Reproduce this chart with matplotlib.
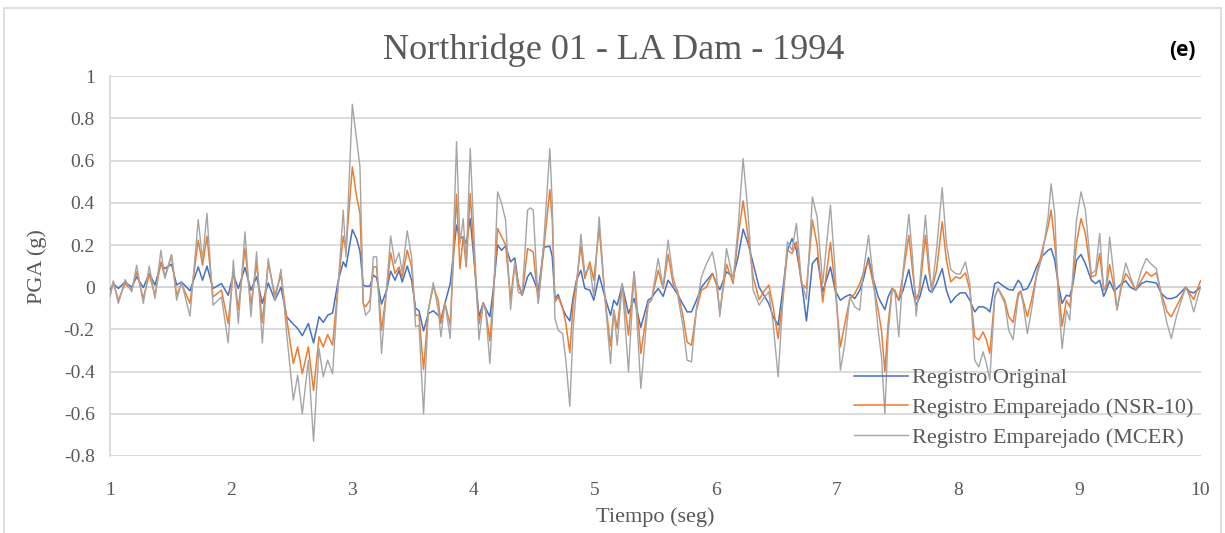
import matplotlib
matplotlib.use("Agg")
import matplotlib.pyplot as plt
from matplotlib.patches import Rectangle

# tiempo (seg) y aceleraciones (g)
tiempo = [1.00, 1.027, 1.069, 1.124, 1.179, 1.22, 1.275, 1.324, 1.371, 1.42, 1.453, 1.508, 1.55, 1.59,
          1.66, 1.728, 1.764, 1.80, 1.85, 1.92, 1.975, 2.018, 2.059, 2.114, 2.163, 2.21, 2.257, 2.306,
          2.361, 2.411, 2.458, 2.513, 2.549, 2.587, 2.637, 2.68, 2.725, 2.76, 2.796, 2.837, 2.884, 2.925,
          2.947, 3.0, 3.035, 3.063, 3.09, 3.11, 3.145, 3.173, 3.2, 3.241, 3.283, 3.316, 3.352, 3.385,
          3.412, 3.453, 3.489, 3.522, 3.55, 3.588, 3.627, 3.668, 3.709, 3.731, 3.764, 3.808, 3.86, 3.888,
          3.915, 3.94, 3.973, 4.012, 4.045, 4.08, 4.1, 4.135, 4.163, 4.199, 4.232, 4.265, 4.306, 4.341,
          4.369, 4.402, 4.446, 4.471, 4.493, 4.534, 4.581, 4.63, 4.65, 4.672, 4.699, 4.735, 4.762, 4.795,
          4.823, 4.85, 4.886, 4.919, 4.96, 4.993, 5.037, 5.084, 5.131, 5.158, 5.186, 5.227, 5.279, 5.326,
          5.381, 5.441, 5.469, 5.524, 5.565, 5.606, 5.647, 5.683, 5.725, 5.763, 5.799, 5.84, 5.881, 5.923,
          5.972, 6.005, 6.033, 6.088, 6.143, 6.184, 6.225, 6.266, 6.308, 6.357, 6.404, 6.437, 6.473, 6.514,
          6.555, 6.591, 6.629, 6.665, 6.706, 6.748, 6.797, 6.836, 6.882, 6.946, 6.984, 7.028, 7.065, 7.106,
          7.147, 7.188, 7.216, 7.26, 7.298, 7.34, 7.367, 7.395, 7.422, 7.455, 7.477, 7.51, 7.546, 7.593,
          7.623, 7.653, 7.683, 7.73, 7.758, 7.782, 7.821, 7.868, 7.903, 7.939, 7.978, 8.016, 8.06, 8.096,
          8.137, 8.17, 8.206, 8.233, 8.261, 8.302, 8.33, 8.385, 8.417, 8.453, 8.495, 8.517, 8.536, 8.571,
          8.605, 8.646, 8.693, 8.742, 8.767, 8.797, 8.825, 8.858, 8.893, 8.921, 8.948, 8.976, 9.014, 9.05,
          9.099, 9.135, 9.168, 9.201, 9.223, 9.25, 9.286, 9.311, 9.347, 9.383, 9.421, 9.465, 9.512, 9.553,
          9.594, 9.636, 9.677, 9.724, 9.759, 9.801, 9.842, 9.878, 9.911, 9.944, 10.0]

original = [-0.014, 0.017, -0.006, 0.025, 0.0, 0.049, -0.002, 0.065, 0.01, 0.112, 0.088, 0.109, 0.01, 0.025,
            -0.017, 0.096, 0.033, 0.10, -0.006, 0.017, -0.038, 0.06, -0.006, 0.093, -0.014, 0.049, -0.077, 0.02,
            -0.062, 0.0, -0.14, -0.175, -0.196, -0.23, -0.172, -0.264, -0.14, -0.167, -0.133, -0.122, 0.033, 0.12,
            0.096, 0.273, 0.23, 0.17, 0.01, 0.005, 0.005, 0.057, 0.046, -0.08, -0.014, 0.076, 0.033, 0.08,
            0.025, 0.10, 0.033, -0.10, -0.112, -0.207, -0.125, -0.112, -0.133, -0.153, -0.077, 0.017, 0.294, 0.23,
            0.239, 0.207, 0.325, 0.08, -0.14, -0.074, -0.10, -0.14, -0.014, 0.20, 0.175, 0.196, 0.12, 0.139,
            0.017, -0.038, 0.049, 0.07, 0.041, -0.022, 0.19, 0.194, 0.144, -0.054, -0.035, -0.10, -0.133, -0.16,
            -0.046, 0.033, 0.08, -0.006, -0.014, -0.062, 0.057, -0.046, -0.133, -0.062, -0.085, 0.01, -0.125, -0.054,
            -0.19, -0.062, -0.05, -0.006, -0.043, 0.033, 0.0, -0.033, -0.077, -0.117, -0.117, -0.062, 0.0, 0.03,
            0.065, 0.017, -0.012, 0.073, 0.049, 0.144, 0.275, 0.207, 0.112, 0.0, -0.046, -0.077, -0.14, -0.18,
            0.0, 0.175, 0.23, 0.175, 0.033, -0.16, 0.112, 0.14, -0.022, 0.096, -0.014, -0.062, -0.046, -0.035,
            -0.054, -0.014, 0.033, 0.14, 0.041, -0.046, -0.077, -0.106, -0.046, -0.006, -0.022, -0.062, -0.014, 0.084,
            -0.014, -0.085, -0.046, 0.057, -0.014, -0.025, 0.017, 0.088, -0.014, -0.074, -0.046, -0.027, -0.027, -0.062,
            -0.117, -0.093, -0.093, -0.10, -0.117, 0.017, 0.024, 0.0, -0.011, -0.014, 0.033, 0.017, -0.014, -0.006,
            0.033, 0.096, 0.147, 0.175, 0.183, 0.128, 0.017, -0.077, -0.038, -0.043, 0.017, 0.128, 0.155, 0.112,
            0.033, 0.017, 0.033, -0.043, -0.014, 0.03, -0.017, -0.006, 0.017, 0.03, 0.0, -0.014, 0.017, 0.028,
            0.024, 0.02, -0.03, -0.054, -0.054, -0.046, -0.022, 0.0, -0.022, -0.027, 0.0]

nsr10 = [-0.038, 0.025, -0.062, 0.017, -0.014, 0.073, -0.054, 0.062, -0.038, 0.12, 0.049, 0.152, -0.038, 0.017,
         -0.077, 0.223, 0.104, 0.242, -0.046, -0.014, -0.172, 0.08, -0.106, 0.183, -0.085, 0.115, -0.169, 0.115,
         -0.038, 0.057, -0.148, -0.362, -0.283, -0.41, -0.283, -0.49, -0.235, -0.283, -0.224, -0.275, 0.017, 0.242,
         0.175, 0.57, 0.43, 0.35, -0.077, -0.093, -0.062, 0.096, 0.096, -0.204, -0.014, 0.163, 0.065, 0.096,
         0.049, 0.175, 0.096, -0.133, -0.133, -0.39, -0.109, 0.005, -0.062, -0.172, -0.074, -0.18, 0.44, 0.088,
         0.239, 0.096, 0.444, 0.08, -0.175, -0.074, -0.109, -0.254, -0.046, 0.278, 0.239, 0.20, -0.054, 0.115,
         0.017, -0.038, 0.183, 0.175, 0.167, -0.074, 0.19, 0.463, 0.318, -0.07, -0.046, -0.096, -0.172, -0.311,
         -0.077, 0.025, 0.196, 0.041, 0.12, 0.033, 0.286, -0.046, -0.28, -0.109, -0.196, 0.017, -0.227, 0.073,
         -0.314, -0.077, -0.062, 0.08, -0.006, 0.156, 0.017, -0.014, -0.125, -0.26, -0.275, -0.109, -0.014, 0.0,
         0.065, 0.017, -0.12, 0.109, 0.017, 0.239, 0.409, 0.239, 0.049, -0.058, -0.014, 0.01, -0.093, -0.243,
         -0.046, 0.175, 0.16, 0.215, 0.017, -0.006, 0.318, 0.20, -0.07, 0.212, 0.0, -0.283, -0.172, -0.054,
         -0.03, 0.017, 0.065, 0.123, 0.017, -0.109, -0.204, -0.40, -0.172, -0.006, -0.014, -0.062, 0.065, 0.246,
         0.08, -0.058, -0.014, 0.246, 0.08, -0.014, 0.08, 0.31, 0.128, 0.025, 0.049, 0.041, 0.068, -0.014,
         -0.235, -0.25, -0.212, -0.25, -0.314, -0.046, -0.006, -0.062, -0.14, -0.167, -0.03, -0.017, -0.062, -0.14,
         -0.062, 0.057, 0.175, 0.286, 0.365, 0.207, 0.017, -0.185, -0.062, -0.093, 0.033, 0.207, 0.325, 0.254,
         0.049, 0.057, 0.16, -0.014, 0.0, 0.107, 0.0, -0.106, 0.0, 0.065, 0.033, -0.014, 0.033, 0.073,
         0.052, 0.068, -0.03, -0.117, -0.14, -0.093, -0.046, 0.0, -0.03, -0.058, 0.03]

mcer = [-0.046, 0.03, -0.077, 0.036, -0.022, 0.104, -0.077, 0.10, -0.054, 0.175, 0.041, 0.155, -0.062, 0.025,
        -0.137, 0.32, 0.128, 0.35, -0.085, -0.046, -0.264, 0.128, -0.172, 0.262, -0.14, 0.167, -0.264, 0.136,
        -0.062, 0.085, -0.22, -0.535, -0.417, -0.60, -0.346, -0.73, -0.29, -0.425, -0.346, -0.41, 0.017, 0.365,
        0.144, 0.867, 0.70, 0.57, -0.077, -0.133, -0.109, 0.144, 0.144, -0.314, 0.0, 0.243, 0.112, 0.163,
        0.073, 0.267, 0.144, -0.188, -0.18, -0.60, -0.109, 0.022, -0.109, -0.235, -0.07, -0.243, 0.69, 0.207,
        0.325, 0.112, 0.657, 0.144, -0.25, -0.077, -0.109, -0.362, -0.077, 0.452, 0.397, 0.318, -0.106, 0.112,
        -0.022, -0.038, 0.365, 0.376, 0.365, -0.077, 0.223, 0.657, 0.397, -0.148, -0.204, -0.22, -0.346, -0.564,
        -0.188, -0.006, 0.251, 0.065, 0.096, -0.046, 0.333, -0.046, -0.362, -0.109, -0.275, 0.017, -0.40, 0.073,
        -0.48, -0.077, -0.062, 0.136, 0.0, 0.223, 0.049, -0.03, -0.172, -0.346, -0.354, -0.10, 0.049, 0.112,
        0.167, 0.065, -0.14, 0.183, 0.033, 0.286, 0.61, 0.349, -0.014, -0.085, -0.046, -0.022, -0.172, -0.425,
        -0.046, 0.215, 0.175, 0.302, 0.033, -0.058, 0.428, 0.333, 0.017, 0.389, 0.08, -0.393, -0.267, -0.046,
        -0.093, -0.109, 0.065, 0.246, 0.049, -0.204, -0.33, -0.60, -0.22, -0.014, -0.014, -0.235, 0.08, 0.346,
        0.144, -0.137, 0.017, 0.341, 0.128, -0.022, 0.175, 0.472, 0.207, 0.084, 0.065, 0.062, 0.12, 0.017,
        -0.346, -0.378, -0.306, -0.362, -0.44, -0.046, -0.006, -0.077, -0.204, -0.248, -0.046, -0.022, -0.077, -0.22,
        -0.109, 0.049, 0.144, 0.333, 0.49, 0.349, -0.046, -0.29, -0.109, -0.156, 0.08, 0.318, 0.452, 0.365,
        0.062, 0.08, 0.254, -0.014, 0.017, 0.238, 0.049, -0.109, 0.017, 0.115, 0.049, -0.014, 0.08, 0.136,
        0.109, 0.088, -0.046, -0.172, -0.243, -0.14, -0.062, 0.0, -0.046, -0.117, 0.0]

series_names = ["Registro Original", "Registro Emparejado (NSR-10)", "Registro Emparejado (MCER)"]
y_ticks = [1, 0.8, 0.6, 0.4, 0.2, 0, -0.2, -0.4, -0.6, -0.8]
x_ticks = [1, 2, 3, 4, 5, 6, 7, 8, 9, 10]

serif = "Liberation Serif"
txt_color = "#595959"

fig = plt.figure(figsize=(12.25, 5.33), dpi=100)
ax = fig.add_axes([0.0898, 0.1445, 0.8902, 0.7125])

ax.plot(tiempo, original, color="#4472C4", lw=1.1, label=series_names[0], zorder=3)
ax.plot(tiempo, nsr10, color="#ED7D31", lw=1.1, label=series_names[1], zorder=4)
ax.plot(tiempo, mcer, color="#A5A5A5", lw=1.0, label=series_names[2], zorder=5)

ax.set_xlim(1, 10)
ax.set_ylim(-0.8, 1)
ax.set_yticks(y_ticks)
ax.set_yticklabels([f"{v:g}" for v in y_ticks])
ax.set_xticks(x_ticks)
ax.grid(axis="y", color="#d9d9d9", lw=1.3, zorder=0)
ax.axhline(0, color="#bfbfbf", lw=1.4, zorder=1)
for s in ["top", "right", "bottom"]:
    ax.spines[s].set_visible(False)
ax.spines["left"].set_color("#d9d9d9")
ax.spines["left"].set_linewidth(1.3)
ax.tick_params(length=0, labelsize=14, labelcolor=txt_color)
ax.tick_params(axis="x", pad=19)
ax.tick_params(axis="y", pad=11)
for lab in ax.get_xticklabels() + ax.get_yticklabels():
    lab.set_fontfamily(serif)

ax.set_xlabel("Tiempo (seg)", fontsize=16, family=serif, color=txt_color, labelpad=6)
ax.set_ylabel("PGA (g)", fontsize=16, family=serif, color=txt_color, labelpad=12)

fig.text(0.501, 0.905, "Northridge 01 - LA Dam - 1994", ha="center", va="center",
         fontsize=26, family=serif, color=txt_color)
fig.text(0.965, 0.905, "(e)", ha="center", va="center", fontsize=15,
         fontweight="bold", family="Open Sans", color="black")

ax.legend(loc="lower right", bbox_to_anchor=(1.012, -0.032), frameon=False,
          prop={"family": serif, "size": 16}, labelcolor=txt_color,
          handlelength=2.4, handletextpad=0.2, labelspacing=0.42)

# borde del grafico
fig.patches.append(Rectangle((0.003, -0.05), 0.994, 1.035, transform=fig.transFigure,
                             fill=False, edgecolor="#d9d9d9", lw=1.2))

plt.savefig("out.png", dpi=100)
